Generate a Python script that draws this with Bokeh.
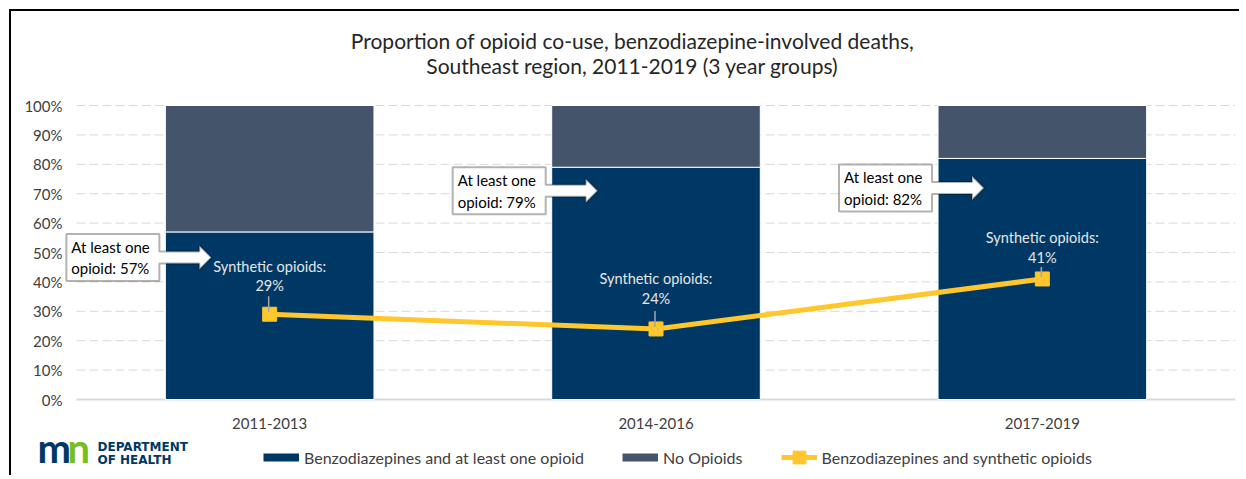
from bokeh.plotting import figure
from bokeh.models import (Range1d, FixedTicker, Label, PolyAnnotation, Legend,
                          LegendItem, NumeralTickFormatter)
from bokeh.embed import file_html
from bokeh.resources import INLINE
from bokeh.core.properties import value

# ---------------- data ----------------
years = ["2011-2013", "2014-2016", "2017-2019"]
at_least_one = [0.57, 0.79, 0.82]
no_opioids = [0.43, 0.21, 0.18]
synthetic = [0.29, 0.24, 0.41]
y_ticks = [0.0, 0.1, 0.2, 0.3, 0.4, 0.5, 0.6, 0.7, 0.8, 0.9, 1.0]
title_lines = ["Proportion of opioid co-use, benzodiazepine-involved deaths,",
               "Southeast region, 2011-2019 (3 year groups)"]
legend_labels = ["Benzodiazepines and at least one opioid", "No Opioids",
                 "Benzodiazepines and synthetic opioids"]

# ---------------- styles ----------------
NAVY = "#003865"
SLATE = "#44546A"
GOLD = "#FFC72C"
GREEN = "#78BE21"
GRID = "#D9D9D9"
TXT = "#404040"
FONT = "Lato"

# page geometry (content origin at page 11,11)
OX, OY = 11, 11
X0_PAGE, X3_PAGE = 76, 1235     # data x = 0 and x = 3
Y0_PAGE, Y1_PAGE = 399, 105     # data y = 0 and y = 1
XU = (X3_PAGE - X0_PAGE) / 3.0
YU = (Y0_PAGE - Y1_PAGE) / 1.0

W = 1230
H = 466
MB_RIGHT = W - (X3_PAGE - OX)
BOTTOM_PAGE = OY + H


def px(page_x):
    return (page_x - X0_PAGE) / XU


def py(page_y):
    return (Y0_PAGE - page_y) / YU


def dx(n):
    return n / XU


def dy(n):
    return n / YU


BAR_W = 0.54
xs = [i + 0.5 for i in range(len(years))]

p = figure(width=W, height=H,
           x_range=Range1d(px(OX), len(years)),
           y_range=Range1d(py(BOTTOM_PAGE), py(OY)),
           output_backend="svg", toolbar_location=None,
           min_border_left=0, min_border_right=MB_RIGHT, min_border_top=0,
           min_border_bottom=0, outline_line_color=None,
           styles={"margin-left": "9px", "margin-top": "9px",
                   "border-top": "2px solid black", "border-left": "2px solid black"})

# axes (fixed at the data origin)
p.yaxis.ticker = FixedTicker(ticks=y_ticks)
p.yaxis.formatter = NumeralTickFormatter(format="0%")
p.yaxis.fixed_location = 0
p.yaxis.axis_line_color = None
p.yaxis.major_tick_line_color = None
p.yaxis.minor_tick_line_color = None
p.yaxis.major_tick_out = 0
p.yaxis.major_tick_in = 0
p.yaxis.major_label_standoff = 14
p.yaxis.major_label_text_font = FONT
p.yaxis.major_label_text_font_size = "15px"
p.yaxis.major_label_text_color = TXT

p.xaxis.ticker = FixedTicker(ticks=xs)
p.xaxis.major_label_overrides = {x: y for x, y in zip(xs, years)}
p.xaxis.fixed_location = 0
p.xaxis.axis_line_color = None
p.xaxis.major_tick_line_color = None
p.xaxis.minor_tick_line_color = None
p.xaxis.major_tick_out = 0
p.xaxis.major_tick_in = 0
p.xaxis.major_label_standoff = 18
p.xaxis.major_label_text_font = FONT
p.xaxis.major_label_text_font_size = "15px"
p.xaxis.major_label_text_color = TXT

p.xgrid.grid_line_color = None
p.ygrid.grid_line_color = None

# gridlines spanning the category area, baseline at 0
grid_y = y_ticks[1:]
p.segment(x0=[0] * len(grid_y), x1=[len(years)] * len(grid_y), y0=grid_y, y1=grid_y,
          line_color=GRID, line_width=1, line_dash="9 4")
p.segment(x0=[0], x1=[len(years)], y0=[y_ticks[0]], y1=[y_ticks[0]],
          line_color=GRID, line_width=2)

# bars
p.vbar(x=xs, width=BAR_W, bottom=0, top=at_least_one, fill_color=NAVY,
       line_color="white", line_width=1)
p.vbar(x=xs, width=BAR_W, bottom=at_least_one,
       top=[a + n for a, n in zip(at_least_one, no_opioids)],
       fill_color=SLATE, line_color="white", line_width=1)

# synthetic line
p.line(xs, synthetic, line_color=GOLD, line_width=5)
p.scatter(xs, synthetic, marker="square", size=14, fill_color=GOLD, line_color=GOLD)

# leader lines and data labels
leader_top = [18, 18, 12]
label_gap = [20, 22, 13]
p.segment(x0=[x - dx(1) for x in xs], y0=[v + dy(2) for v in synthetic],
          x1=[x - dx(1) for x in xs], y1=[v + dy(t) for v, t in zip(synthetic, leader_top)],
          line_color="#A6A6A6", line_width=1.5)
p.text(x=xs, y=[v + dy(g) for v, g in zip(synthetic, label_gap)],
       text=[f"Synthetic opioids:\n{round(v * 100)}%" for v in synthetic],
       text_align="center", text_baseline="bottom", text_font=value(FONT),
       text_font_size="14.5px", text_color="#E7E6E6", text_line_height=1.15)

# callouts
box_off = [2, 0, 6]
for x, v, off in zip(xs, at_least_one, box_off):
    bl = x - BAR_W / 2
    L, R = bl - dx(99), bl - dx(6)
    top = v - dy(off)
    bot = top - dy(47)
    mid = (top + bot) / 2
    se, tip = bl + dx(34), bl + dx(46)
    s, h = dy(6), dy(12)
    pxs = [L, R, R, se, se, tip, se, se, R, R, L]
    pys = [top, top, mid + s, mid + s, mid + h, mid, mid - h, mid - s, mid - s, bot, bot]
    p.add_layout(PolyAnnotation(xs=pxs, ys=pys, fill_color="white", fill_alpha=1,
                                line_color="black", line_width=2))
    p.add_layout(Label(x=L + dx(5), y=mid, text=f"At least one\nopioid: {round(v * 100)}%",
                       text_align="left", text_baseline="middle", text_font=FONT,
                       text_font_size="15px", text_color="black", text_line_height=1.2))

# title
for line, ypage in zip(title_lines, [40, 65]):
    p.add_layout(Label(x=px(632), y=py(ypage), text=line, text_align="center",
                       text_baseline="middle", text_font=FONT, text_font_size="21px",
                       text_color="#262626"))

# logo
p.add_layout(Label(x=px(37), y=py(447), text="m", text_align="left",
                   text_baseline="middle", text_font=FONT, text_font_style="bold",
                   text_font_size="40px", text_color=NAVY))
p.add_layout(Label(x=px(67), y=py(447), text="n", text_align="left",
                   text_baseline="middle", text_font=FONT, text_font_style="bold",
                   text_font_size="40px", text_color=GREEN))
p.add_layout(Label(x=px(97), y=py(446), text="DEPARTMENT", text_align="left",
                   text_baseline="middle", text_font="DejaVu Sans", text_font_style="bold",
                   text_font_size="12px", text_color=NAVY))
p.add_layout(Label(x=px(97), y=py(459), text="OF HEALTH", text_align="left",
                   text_baseline="middle", text_font="DejaVu Sans", text_font_style="bold",
                   text_font_size="12px", text_color=NAVY))

# legend proxies (hidden) built from the same series
l1 = p.line(xs, at_least_one, line_color=NAVY, line_width=8, visible=False)
l2 = p.line(xs, no_opioids, line_color=SLATE, line_width=8, visible=False)
l3 = p.line(xs, synthetic, line_color=GOLD, line_width=5, visible=False)
l4 = p.scatter(xs, synthetic, marker="square", fill_color=GOLD, line_color=GOLD, visible=False)
legend = Legend(items=[LegendItem(label=legend_labels[0], renderers=[l1]),
                       LegendItem(label=legend_labels[1], renderers=[l2]),
                       LegendItem(label=legend_labels[2], renderers=[l3, l4])],
                orientation="horizontal",
                location=(263 - OX, (BOTTOM_PAGE - 457) - 16),
                glyph_width=36, glyph_height=32, label_height=32,
                label_standoff=5, spacing=38, padding=0, margin=0,
                border_line_color=None, background_fill_alpha=0,
                label_text_font=FONT, label_text_font_size="16px",
                label_text_color=TXT)
p.add_layout(legend, "center")

open("out.html", "w").write(file_html(p, INLINE))
